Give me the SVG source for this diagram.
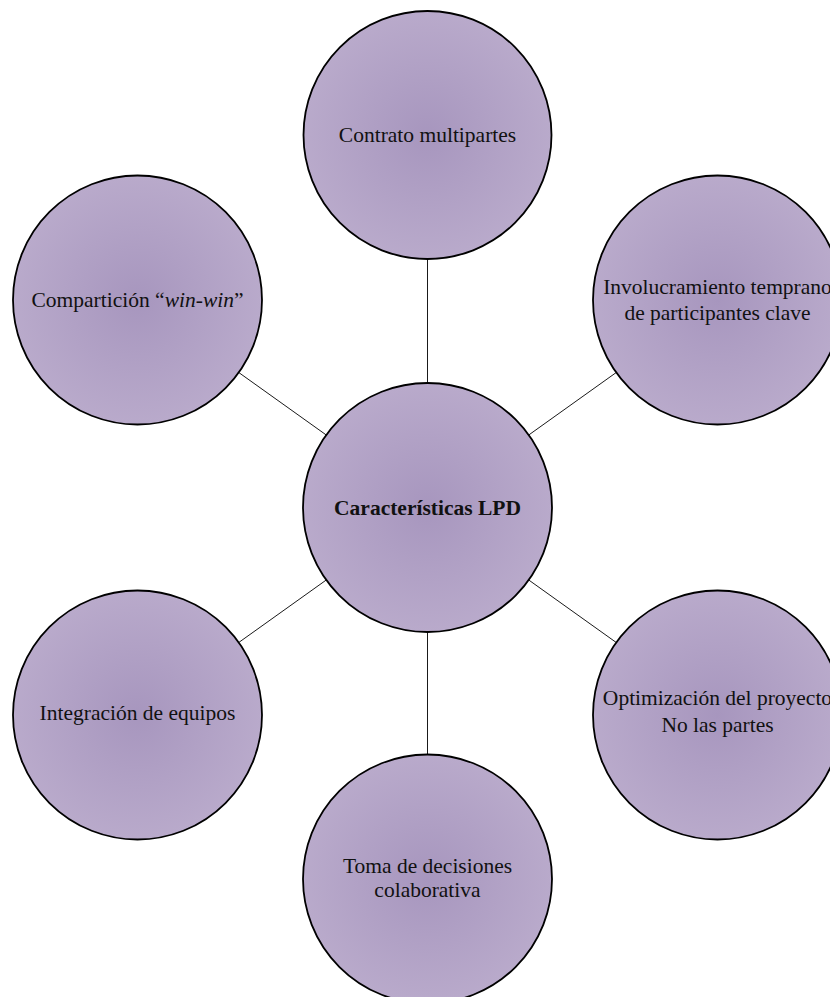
<svg xmlns="http://www.w3.org/2000/svg" width="830" height="997" viewBox="0 0 830 997">
  <style>
    .node { fill: url(#lavender); stroke: #000; stroke-width: 1.8; }
    .label { font-family: "Liberation Serif", "Times New Roman", serif; font-size: 21.5px; fill: #111; text-anchor: middle; }
    .hub { font-weight: bold; }
    .link { stroke: #1a1a1a; stroke-width: 1; fill: none; }
  </style>
  <defs>
    <radialGradient id="lavender" cx="50%" cy="50%" r="50%">
      <stop offset="0" stop-color="#a796be"/>
      <stop offset="1" stop-color="#b9aacb"/>
    </radialGradient>
  </defs>
  <rect width="830" height="997" fill="#fff"/>

  <!-- spokes from the hub to each satellite -->
  <g id="connectors">
    <line class="link" x1="427.5" y1="383" x2="427.5" y2="259"/>
    <line class="link" x1="528.6" y1="435.1" x2="616.4" y2="372.4"/>
    <line class="link" x1="528.6" y1="579.9" x2="616.4" y2="642.6"/>
    <line class="link" x1="427.5" y1="632" x2="427.5" y2="755"/>
    <line class="link" x1="326.4" y1="579.9" x2="238.6" y2="642.6"/>
    <line class="link" x1="326.4" y1="435.1" x2="238.6" y2="372.4"/>
  </g>

  <g id="hub">
    <circle class="node" cx="427.5" cy="507.5" r="124.5"/>
    <text class="label hub" x="427.5" y="514.5">Características LPD</text>
  </g>

  <g id="contrato">
    <circle class="node" cx="427.5" cy="135" r="124"/>
    <text class="label" x="427.5" y="141.5">Contrato multipartes</text>
  </g>

  <g id="involucramiento">
    <circle class="node" cx="717.5" cy="300" r="124.5"/>
    <text class="label" x="717.5" y="294">Involucramiento temprano</text>
    <text class="label" x="717.5" y="320">de participantes clave</text>
  </g>

  <g id="optimizacion">
    <circle class="node" cx="717.5" cy="715" r="124.5"/>
    <text class="label" x="717.5" y="705">Optimización del proyecto</text>
    <text class="label" x="717.5" y="731.5">No las partes</text>
  </g>

  <g id="toma-decisiones">
    <circle class="node" cx="427.5" cy="879" r="124.5"/>
    <text class="label" x="427.5" y="872.5">Toma de decisiones</text>
    <text class="label" x="427.5" y="897">colaborativa</text>
  </g>

  <g id="integracion">
    <circle class="node" cx="137.5" cy="715" r="124.5"/>
    <text class="label" x="137.5" y="719.5">Integración de equipos</text>
  </g>

  <g id="comparticion">
    <circle class="node" cx="137.5" cy="300" r="124.5"/>
    <text class="label" x="137.5" y="307">Compartición “<tspan font-style="italic">win-win</tspan>”</text>
  </g>
</svg>
